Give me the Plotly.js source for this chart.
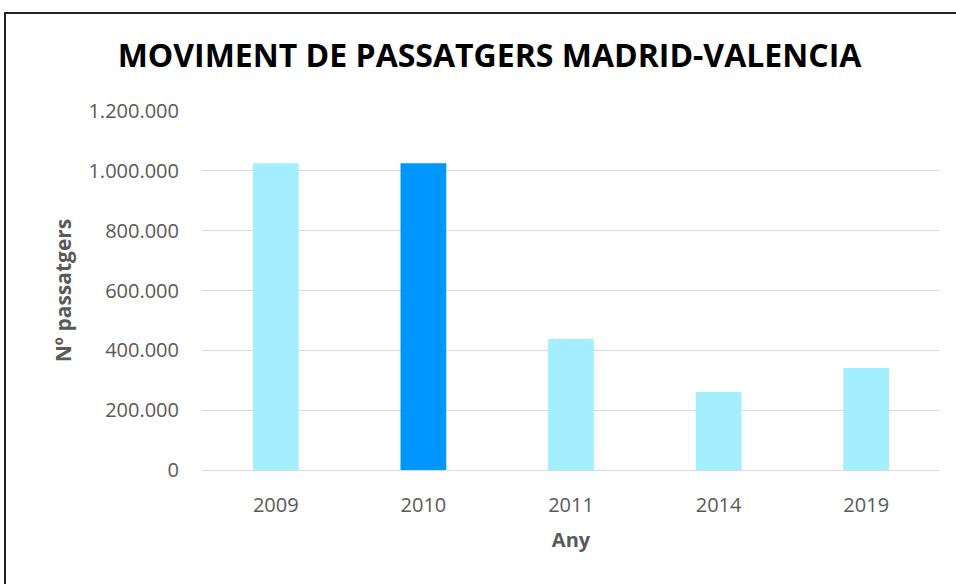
<!DOCTYPE html>
<html>
<head>
<meta charset="utf-8">
<script src="https://cdn.plot.ly/plotly-3.0.1.min.js"></script>
<style>
html,body{margin:0;padding:0;background:#fff;overflow:hidden;}
#hline{position:absolute;left:4px;top:12px;right:0;height:2px;background:#222;}
#vline{position:absolute;left:4px;top:12px;width:2px;bottom:0;background:#222;}
#chart{position:absolute;left:0;top:0;width:956px;height:584px;}
</style>
</head>
<body>
<div id="hline"></div>
<div id="vline"></div>
<div id="chart"></div>
<script>
const years = ['2009', '2010', '2011', '2014', '2019'];
const passengers = [1025000, 1025000, 438000, 261000, 341000];
const barColors = ['#A3EFFF', '#0096FF', '#A3EFFF', '#A3EFFF', '#A3EFFF'];
const yTicks = [0, 200000, 400000, 600000, 800000, 1000000, 1200000];

const trace = {
  type: 'bar',
  x: years,
  y: passengers,
  marker: {color: barColors, line: {width: 0}},
  hoverinfo: 'x+y'
};

const layout = {
  width: 956,
  height: 584,
  paper_bgcolor: 'rgba(0,0,0,0)',
  plot_bgcolor: 'rgba(0,0,0,0)',
  separators: ',.',
  margin: {l: 202, r: 16, t: 111, b: 114},
  bargap: 0.69,
  showlegend: false,
  font: {family: 'Open Sans, sans-serif', color: '#595959'},
  title: {
    text: '<b>MOVIMENT DE PASSATGERS MADRID-VALENCIA</b>',
    font: {family: 'Open Sans, sans-serif', size: 32, color: '#000'},
    x: 0.512, xanchor: 'center',
    y: 0.905, yanchor: 'middle'
  },
  xaxis: {
    type: 'category',
    showgrid: false,
    showline: true,
    linecolor: '#D9D9D9',
    linewidth: 1,
    ticks: '',
    tickfont: {size: 20, color: '#595959'},
    ticklabelstandoff: 17,
    title: {text: '<b>Any</b>', font: {size: 20, color: '#595959'}, standoff: 15},
    automargin: false
  },
  yaxis: {
    range: [0, 1200000],
    tickvals: yTicks,
    tickformat: ',d',
    showgrid: true,
    gridcolor: '#D9D9D9',
    gridwidth: 1,
    zeroline: false,
    showline: false,
    ticks: '',
    tickfont: {size: 20, color: '#595959'},
    ticklabelstandoff: 22,
    title: {text: '<b>Nº passatgers</b>', font: {size: 21, color: '#595959'}, standoff: 11},
    automargin: false
  }
};

Plotly.newPlot('chart', [trace], layout, {displayModeBar: false, staticPlot: true});
</script>
</body>
</html>
